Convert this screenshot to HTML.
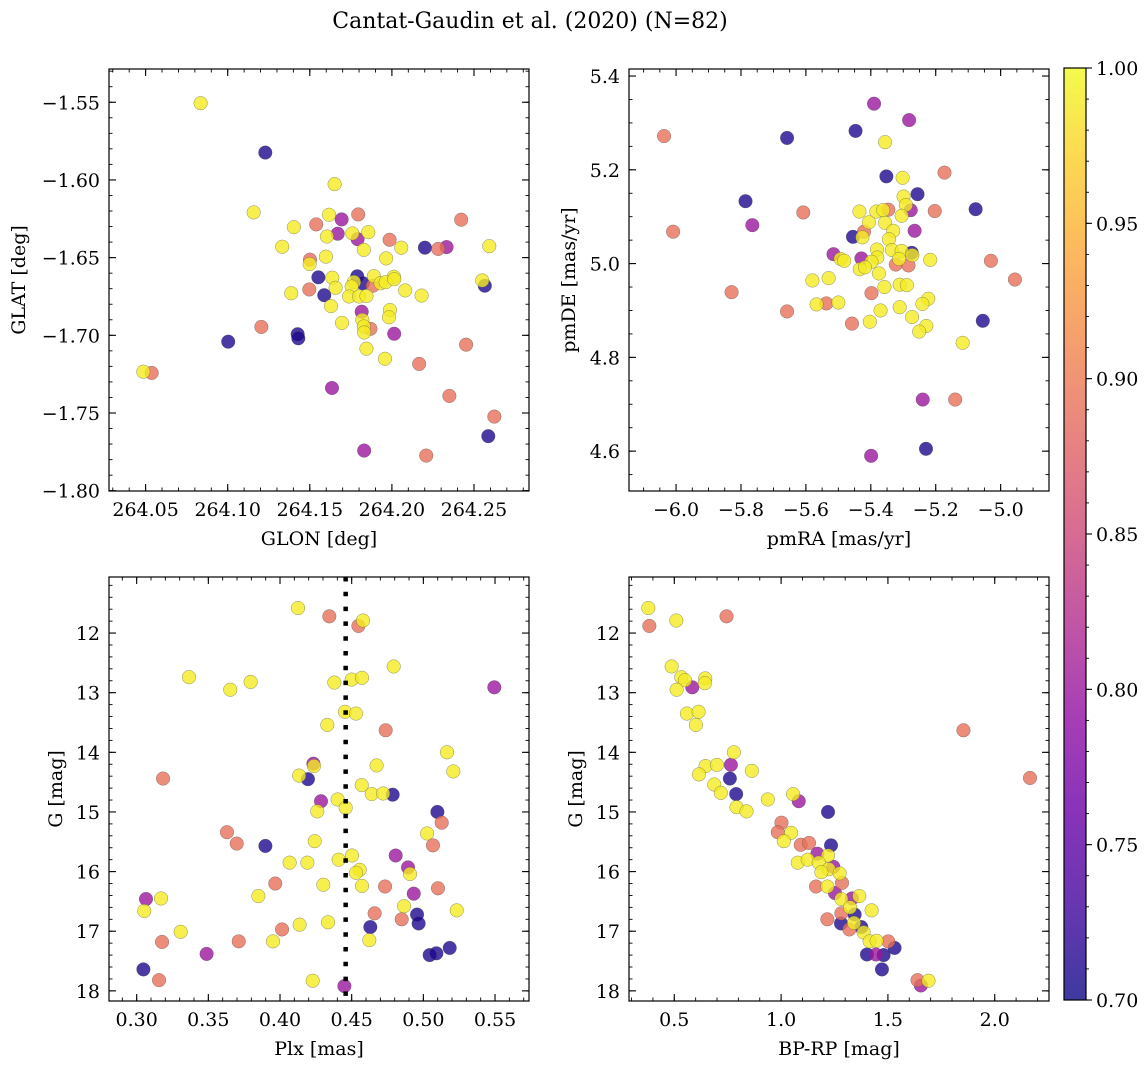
<!DOCTYPE html>
<html><head><meta charset="utf-8">
<style>
html,body{margin:0;padding:0;background:#fff;}
svg{display:block;font-family:"DejaVu Serif","Liberation Serif",serif;}
</style></head>
<body>
<svg id="fig" width="1148" height="1068" viewBox="0 0 1148 1068" xmlns="http://www.w3.org/2000/svg">
<text x="530" y="28" font-size="22" text-anchor="middle">Cantat-Gaudin et al. (2020) (N=82)</text>
<defs>
<linearGradient id="cbgrad" x1="0" y1="1" x2="0" y2="0">
<stop offset="0" stop-color="#0d0887"/><stop offset="0.1" stop-color="#41049d"/><stop offset="0.2" stop-color="#6a00a8"/><stop offset="0.3" stop-color="#8f0da4"/><stop offset="0.4" stop-color="#b12a90"/><stop offset="0.5" stop-color="#cc4778"/><stop offset="0.6" stop-color="#e16462"/><stop offset="0.7" stop-color="#f2844b"/><stop offset="0.8" stop-color="#fca636"/><stop offset="0.9" stop-color="#fcce25"/><stop offset="1" stop-color="#f0f921"/>
</linearGradient>
</defs>
</svg>
<script>
// ---- Panel 1: GLON / GLAT ----
const p1Glon=[264.0835,264.1229,264.1651,264.1158,264.1617,264.1694,264.1795,264.2422,264.1539,264.1403,264.1670,264.1604,264.1759,264.1856,264.1791,264.1986,264.1332,264.1829,264.2057,264.2201,264.2282,264.2333,264.2593,264.1598,264.1965,264.1501,264.1499,264.1552,264.1637,264.1789,264.1769,264.1890,264.2012,264.1824,264.1755,264.1657,264.1884,264.1931,264.1962,264.2014,264.2550,264.2566,264.1497,264.1387,264.2081,264.2181,264.1588,264.1739,264.1800,264.1845,264.1629,264.1816,264.1988,264.1982,264.1820,264.1696,264.1869,264.1829,264.1831,264.2014,264.1205,264.1426,264.1430,264.1003,264.1845,264.1958,264.2452,264.2166,264.0486,264.0537,264.1635,264.2350,264.2624,264.2587,264.1831,264.2209];
const p1Glat=[-1.5506,-1.5824,-1.6027,-1.6209,-1.6224,-1.6254,-1.6222,-1.6256,-1.6286,-1.6304,-1.6346,-1.6364,-1.6344,-1.6336,-1.6381,-1.6385,-1.6430,-1.6450,-1.6436,-1.6436,-1.6444,-1.6432,-1.6426,-1.6494,-1.6505,-1.6513,-1.6541,-1.6627,-1.6629,-1.6620,-1.6657,-1.6619,-1.6623,-1.6665,-1.6686,-1.6694,-1.6681,-1.6665,-1.6658,-1.6639,-1.6647,-1.6681,-1.6705,-1.6729,-1.6711,-1.6744,-1.6742,-1.6750,-1.6750,-1.6747,-1.6812,-1.6848,-1.6837,-1.6884,-1.6901,-1.6920,-1.6958,-1.6943,-1.6982,-1.6990,-1.6946,-1.6993,-1.7019,-1.7041,-1.7086,-1.7151,-1.7060,-1.7184,-1.7234,-1.7242,-1.7339,-1.7390,-1.7523,-1.7649,-1.7742,-1.7774];
const p1Prob=[0.99,0.71,0.99,0.99,0.99,0.80,0.89,0.89,0.89,0.99,0.80,0.99,0.99,0.99,0.80,0.89,0.99,0.99,0.99,0.71,0.89,0.80,0.99,0.99,0.99,0.89,0.99,0.71,0.99,0.71,0.99,0.99,0.99,0.71,0.99,0.99,0.89,0.99,0.99,0.99,0.99,0.71,0.89,0.99,0.99,0.99,0.71,0.99,0.99,0.99,0.99,0.80,0.99,0.99,0.99,0.99,0.89,0.99,0.99,0.80,0.89,0.71,0.71,0.71,0.99,0.99,0.89,0.89,0.99,0.89,0.80,0.89,0.89,0.71,0.80,0.89];
const p1XTicks=[264.05,264.10,264.15,264.20,264.25];
const p1YTicks=[-1.55,-1.60,-1.65,-1.70,-1.75,-1.80];

// ---- Panel 2: pmRA / pmDE ----
const p2PmRA=[-5.390,-5.282,-5.447,-6.037,-5.658,-5.356,-5.352,-5.302,-5.173,-5.786,-5.256,-5.299,-5.292,-5.077,-5.203,-5.608,-5.435,-5.383,-5.362,-5.346,-5.277,-5.305,-5.765,-6.009,-5.406,-5.356,-5.331,-5.265,-5.421,-5.455,-5.426,-5.344,-5.381,-5.335,-5.305,-5.274,-5.272,-5.515,-5.380,-5.429,-5.493,-5.482,-5.398,-5.313,-5.217,-5.030,-5.323,-5.284,-5.434,-5.418,-5.375,-5.580,-5.530,-4.956,-5.358,-5.311,-5.289,-5.829,-5.398,-5.567,-5.537,-5.500,-5.223,-5.241,-5.658,-5.370,-5.311,-5.273,-5.458,-5.403,-5.229,-5.251,-5.055,-5.117,-5.240,-5.140,-5.230,-5.399];
const p2PmDE=[5.341,5.306,5.283,5.272,5.268,5.259,5.186,5.183,5.194,5.133,5.148,5.143,5.125,5.116,5.112,5.109,5.111,5.111,5.114,5.115,5.114,5.102,5.082,5.068,5.088,5.087,5.070,5.070,5.068,5.057,5.056,5.052,5.030,5.029,5.027,5.023,5.018,5.020,5.013,5.011,5.010,5.006,5.004,5.010,5.008,5.006,4.998,4.996,4.988,4.992,4.979,4.964,4.969,4.966,4.950,4.955,4.954,4.939,4.937,4.913,4.915,4.917,4.925,4.914,4.898,4.900,4.907,4.886,4.872,4.876,4.867,4.855,4.878,4.831,4.710,4.710,4.605,4.590];
const p2Prob=[0.80,0.80,0.71,0.89,0.71,0.99,0.71,0.99,0.89,0.71,0.71,0.99,0.99,0.71,0.89,0.89,0.99,0.99,0.99,0.89,0.80,0.99,0.80,0.89,0.99,0.99,0.99,0.80,0.89,0.71,0.99,0.99,0.99,0.99,0.99,0.71,0.99,0.80,0.99,0.80,0.99,0.99,0.99,0.99,0.99,0.89,0.89,0.89,0.99,0.99,0.99,0.99,0.99,0.89,0.99,0.99,0.99,0.89,0.89,0.99,0.89,0.99,0.99,0.99,0.89,0.99,0.99,0.99,0.89,0.99,0.99,0.99,0.71,0.99,0.80,0.89,0.71,0.80];
const p2XTicks=[-6.0,-5.8,-5.6,-5.4,-5.2,-5.0];
const p2YTicks=[4.6,4.8,5.0,5.2,5.4];

// ---- Panel 3: Plx / G ----
const p3Plx=[0.4126,0.4344,0.4547,0.4579,0.4793,0.3365,0.3653,0.3795,0.4379,0.4500,0.4572,0.5495,0.4453,0.4530,0.4330,0.4737,0.5165,0.5209,0.4233,0.4237,0.4674,0.3184,0.4133,0.4195,0.4570,0.4640,0.4719,0.4786,0.4286,0.4402,0.4458,0.4260,0.5098,0.5128,0.5026,0.5067,0.3630,0.3698,0.3898,0.4242,0.4807,0.4502,0.4409,0.4067,0.4191,0.4893,0.4907,0.4556,0.4530,0.3967,0.4302,0.4572,0.4733,0.5102,0.4933,0.3849,0.3065,0.3170,0.3053,0.4865,0.5233,0.4660,0.4849,0.4956,0.4967,0.4137,0.4335,0.4630,0.3307,0.4014,0.3177,0.3712,0.3951,0.4623,0.3488,0.5184,0.5044,0.5091,0.3047,0.3156,0.4228,0.4449];
const p3G=[11.58,11.72,11.88,11.79,12.56,12.74,12.95,12.82,12.83,12.78,12.75,12.91,13.32,13.35,13.54,13.63,14.00,14.32,14.19,14.23,14.22,14.44,14.39,14.45,14.55,14.70,14.69,14.71,14.82,14.79,14.93,14.99,15.00,15.18,15.36,15.56,15.34,15.53,15.57,15.49,15.73,15.73,15.80,15.85,15.85,15.93,16.04,15.97,16.02,16.20,16.22,16.24,16.25,16.28,16.37,16.41,16.46,16.45,16.66,16.58,16.65,16.70,16.80,16.72,16.87,16.89,16.85,16.93,17.01,16.97,17.18,17.17,17.17,17.15,17.38,17.28,17.40,17.37,17.64,17.82,17.83,17.92];
const p3Prob=[0.99,0.89,0.89,0.99,0.99,0.99,0.99,0.99,0.99,0.99,0.99,0.80,0.99,0.99,0.99,0.89,0.99,0.99,0.80,0.99,0.99,0.89,0.99,0.71,0.99,0.99,0.99,0.71,0.80,0.99,0.99,0.99,0.71,0.89,0.99,0.89,0.89,0.89,0.71,0.99,0.80,0.99,0.99,0.99,0.99,0.80,0.99,0.99,0.99,0.89,0.99,0.99,0.89,0.89,0.80,0.99,0.80,0.99,0.99,0.99,0.99,0.89,0.89,0.71,0.71,0.99,0.99,0.71,0.99,0.89,0.89,0.89,0.99,0.99,0.80,0.71,0.71,0.71,0.71,0.89,0.99,0.80];
const p3XTicks=[0.30,0.35,0.40,0.45,0.50,0.55];
const p3YTicks=[12,13,14,15,16,17,18];
const p3MeanPlx=[0.4458];

// ---- Panel 4: BP-RP / G ----
const p4Color=[0.3785,0.3832,0.5093,0.7445,0.4875,0.5327,0.5498,0.5841,0.5109,0.6449,0.6433,0.5592,0.6137,0.6012,1.8536,0.7788,0.7648,0.6464,0.6994,0.6153,0.8629,0.7601,2.1651,0.6869,0.7181,0.7897,0.9377,1.0561,1.0826,0.7913,0.8380,1.2196,1.0016,0.9844,1.0467,1.0125,1.0919,1.1308,1.2336,1.0779,1.1246,1.1698,1.2196,1.1760,1.2445,1.2227,1.1885,1.2741,1.2850,1.1636,1.2165,1.2523,1.2819,1.3318,1.3660,1.3224,1.4237,1.3442,1.2819,1.2165,1.2804,1.3411,1.3754,1.3193,1.3863,1.4143,1.5016,1.4470,1.5312,1.4019,1.4439,1.4798,1.4720,1.6386,1.6542,1.6900];
const p4G=[11.58,11.88,11.79,11.72,12.56,12.74,12.79,12.91,12.95,12.76,12.84,13.35,13.32,13.54,13.63,14.00,14.21,14.23,14.21,14.37,14.31,14.44,14.43,14.54,14.68,14.70,14.79,14.70,14.82,14.92,14.99,15.00,15.18,15.34,15.35,15.49,15.55,15.52,15.56,15.85,15.80,15.70,15.73,15.85,15.92,15.96,16.01,16.03,16.19,16.25,16.25,16.36,16.46,16.45,16.41,16.60,16.65,16.72,16.70,16.80,16.87,16.86,16.93,16.97,17.02,17.17,17.17,17.16,17.28,17.39,17.39,17.40,17.64,17.82,17.91,17.83];
const p4Prob=[0.99,0.89,0.99,0.89,0.99,0.99,0.99,0.80,0.99,0.99,0.99,0.99,0.99,0.99,0.89,0.99,0.80,0.99,0.99,0.99,0.99,0.71,0.89,0.99,0.99,0.71,0.99,0.99,0.80,0.99,0.99,0.71,0.89,0.89,0.99,0.99,0.89,0.89,0.71,0.99,0.99,0.80,0.99,0.99,0.80,0.99,0.99,0.99,0.89,0.89,0.99,0.80,0.99,0.80,0.99,0.99,0.99,0.71,0.89,0.89,0.71,0.99,0.71,0.89,0.99,0.99,0.89,0.99,0.71,0.71,0.80,0.71,0.71,0.89,0.80,0.99];
const p4XTicks=[0.5,1.0,1.5,2.0];
const p4YTicks=[12,13,14,15,16,17,18];

// ---- Colorbar ----
const cbTicks=[0.70,0.75,0.80,0.85,0.90,0.95,1.00];
const cbRange=[0.70,1.00];

const NS="http://www.w3.org/2000/svg";
const svg=document.getElementById('fig');
function mk(tag,attrs,parent){const e=document.createElementNS(NS,tag);for(const k in attrs)e.setAttribute(k,attrs[k]);(parent||svg).appendChild(e);return e;}

const plasma=[[13,8,135],[65,4,157],[106,0,168],[143,13,164],[177,42,144],[204,71,120],[225,100,98],[242,132,75],[252,166,54],[252,206,37],[240,249,33]];
function cmap(v){let t=(v-cbRange[0])/(cbRange[1]-cbRange[0]);t=Math.max(0,Math.min(1,t))*10;const i=Math.min(9,Math.floor(t)),f=t-i;const a=plasma[i],b=plasma[i+1];return 'rgb('+[0,1,2].map(k=>Math.round(a[k]+(b[k]-a[k])*f)).join(',')+')';}
function fmt(v,d){const s=Math.abs(v).toFixed(d);return (v<0?'\u2212':'')+s;}

function panel(cfg){
  const g=mk('g',{});
  
  
  const sx=v=>cfg.x0+(v-cfg.xlim[0])/(cfg.xlim[1]-cfg.xlim[0])*(cfg.x1-cfg.x0);
  const sy=v=>cfg.y1-(v-cfg.ylim[0])/(cfg.ylim[1]-cfg.ylim[0])*(cfg.y1-cfg.y0);
  const clip='clip-'+cfg.name;
  const cp=mk('clipPath',{id:clip},g);mk('rect',{x:cfg.x0,y:cfg.y0,width:cfg.x1-cfg.x0,height:cfg.y1-cfg.y0},cp);
  const pg=mk('g',{'clip-path':'url(#'+clip+')'},g);
  const idx=cfg.xs.map((_,i)=>i).sort((a,b)=>cfg.p[a]-cfg.p[b]);
  idx.forEach(i=>{
    const c=mk('circle',{cx:sx(cfg.xs[i]).toFixed(2),cy:sy(cfg.ys[i]).toFixed(2),r:6.8,fill:cmap(cfg.p[i]),'fill-opacity':0.8,stroke:'#4a4a4a','stroke-opacity':0.6,'stroke-width':0.5},pg);
    
    
  });
  if(cfg.vline){cfg.vline.forEach(v=>{const l=mk('line',{x1:sx(v),x2:sx(v),y1:cfg.y0,y2:cfg.y1,stroke:'#000','stroke-width':4.5,'stroke-dasharray':'4.5,10.3'},g);
    
    });}
  const fr=mk('rect',{x:cfg.x0,y:cfg.y0,width:cfg.x1-cfg.x0,height:cfg.y1-cfg.y0,fill:'none',stroke:'#000','stroke-width':1.2},g);
  
  
  const eps=1e-9;
  for(let v=Math.ceil(cfg.xlim[0]/cfg.xminor-eps)*cfg.xminor;v<=cfg.xlim[1]+eps;v+=cfg.xminor){const X=sx(v);
    mk('line',{x1:X,x2:X,y1:cfg.y1,y2:cfg.y1-3.5,stroke:'#000','stroke-width':0.9},g);mk('line',{x1:X,x2:X,y1:cfg.y0,y2:cfg.y0+3.5,stroke:'#000','stroke-width':0.9},g);}
  const ylo=Math.min(...cfg.ylim),yhi=Math.max(...cfg.ylim);
  for(let v=Math.ceil(ylo/cfg.yminor-eps)*cfg.yminor;v<=yhi+eps;v+=cfg.yminor){const Y=sy(v);
    mk('line',{x1:cfg.x0,x2:cfg.x0+3.5,y1:Y,y2:Y,stroke:'#000','stroke-width':0.9},g);mk('line',{x1:cfg.x1,x2:cfg.x1-3.5,y1:Y,y2:Y,stroke:'#000','stroke-width':0.9},g);}
  cfg.xt.forEach(v=>{const X=sx(v);
    mk('line',{x1:X,x2:X,y1:cfg.y1,y2:cfg.y1-7,stroke:'#000','stroke-width':1.1},g);mk('line',{x1:X,x2:X,y1:cfg.y0,y2:cfg.y0+7,stroke:'#000','stroke-width':1.1},g);
    const t=mk('text',{x:X,y:cfg.y1+25,'font-size':19,'text-anchor':'middle'},g);t.textContent=fmt(v,cfg.xd);
    
    });
  cfg.yt.forEach(v=>{const Y=sy(v);
    mk('line',{x1:cfg.x0,x2:cfg.x0+7,y1:Y,y2:Y,stroke:'#000','stroke-width':1.1},g);mk('line',{x1:cfg.x1,x2:cfg.x1-7,y1:Y,y2:Y,stroke:'#000','stroke-width':1.1},g);
    const t=mk('text',{x:cfg.x0-9,y:Y+7,'font-size':19,'text-anchor':'end'},g);t.textContent=fmt(v,cfg.yd);
    
    });
  const xl=mk('text',{x:(cfg.x0+cfg.x1)/2,y:cfg.y1+54,'font-size':19,'text-anchor':'middle'},g);xl.textContent=cfg.xlabel;
  
  
  const cy=(cfg.y0+cfg.y1)/2;
  const yl=mk('text',{x:cfg.ylx,y:cy,'font-size':19,'text-anchor':'middle',transform:'rotate(-90 '+cfg.ylx+' '+cy+')'},g);yl.textContent=cfg.ylabel;
  
  
}

panel({name:'panel-sky-position',x0:109,x1:529,y0:69,y1:491,xlim:[264.0277,264.2835],ylim:[-1.8002,-1.5286],xs:p1Glon,ys:p1Glat,p:p1Prob,xt:p1XTicks,yt:p1YTicks,xd:2,yd:2,xminor:0.01,yminor:0.01,xlabel:'GLON [deg]',ylabel:'GLAT [deg]',ylx:25});
panel({name:'panel-proper-motion',x0:629,x1:1049,y0:69,y1:491,xlim:[-6.145,-4.851],ylim:[4.515,5.415],xs:p2PmRA,ys:p2PmDE,p:p2Prob,xt:p2XTicks,yt:p2YTicks,xd:1,yd:1,xminor:0.05,yminor:0.05,xlabel:'pmRA [mas/yr]',ylabel:'pmDE [mas/yr]',ylx:575});
panel({name:'panel-parallax-mag',x0:109,x1:529,y0:577,y1:1001,xlim:[0.2807,0.5737],ylim:[18.17,11.06],xs:p3Plx,ys:p3G,p:p3Prob,xt:p3XTicks,yt:p3YTicks,xd:2,yd:0,xminor:0.01,yminor:0.2,xlabel:'Plx [mas]',ylabel:'G [mag]',ylx:62,vline:p3MeanPlx});
panel({name:'panel-cmd',x0:629,x1:1049,y0:577,y1:1001,xlim:[0.288,2.254],ylim:[18.17,11.06],xs:p4Color,ys:p4G,p:p4Prob,xt:p4XTicks,yt:p4YTicks,xd:1,yd:0,xminor:0.1,yminor:0.2,xlabel:'BP-RP [mag]',ylabel:'G [mag]',ylx:582});

(function(){
  const x0=1064,x1=1086,y0=68,y1=1000;
  const g=mk('g',{});
  
  
  mk('rect',{x:x0,y:y0,width:x1-x0,height:y1-y0,fill:'url(#cbgrad)','fill-opacity':0.8},g);
  mk('rect',{x:x0,y:y0,width:x1-x0,height:y1-y0,fill:'none',stroke:'#000','stroke-width':1.2},g);
  const sy=v=>y1-(v-cbRange[0])/(cbRange[1]-cbRange[0])*(y1-y0);
  for(let v=cbRange[0];v<=cbRange[1]+1e-9;v+=0.01){const Y=sy(v);mk('line',{x1:x1,x2:x1+3,y1:Y,y2:Y,stroke:'#000','stroke-width':0.9},g);}
  cbTicks.forEach(v=>{const Y=sy(v);mk('line',{x1:x1,x2:x1+6,y1:Y,y2:Y,stroke:'#000','stroke-width':1.1},g);
    const t=mk('text',{x:x1+10,y:Y+7,'font-size':19},g);t.textContent=v.toFixed(2);
    
    });
})();
</script>
</body></html>
